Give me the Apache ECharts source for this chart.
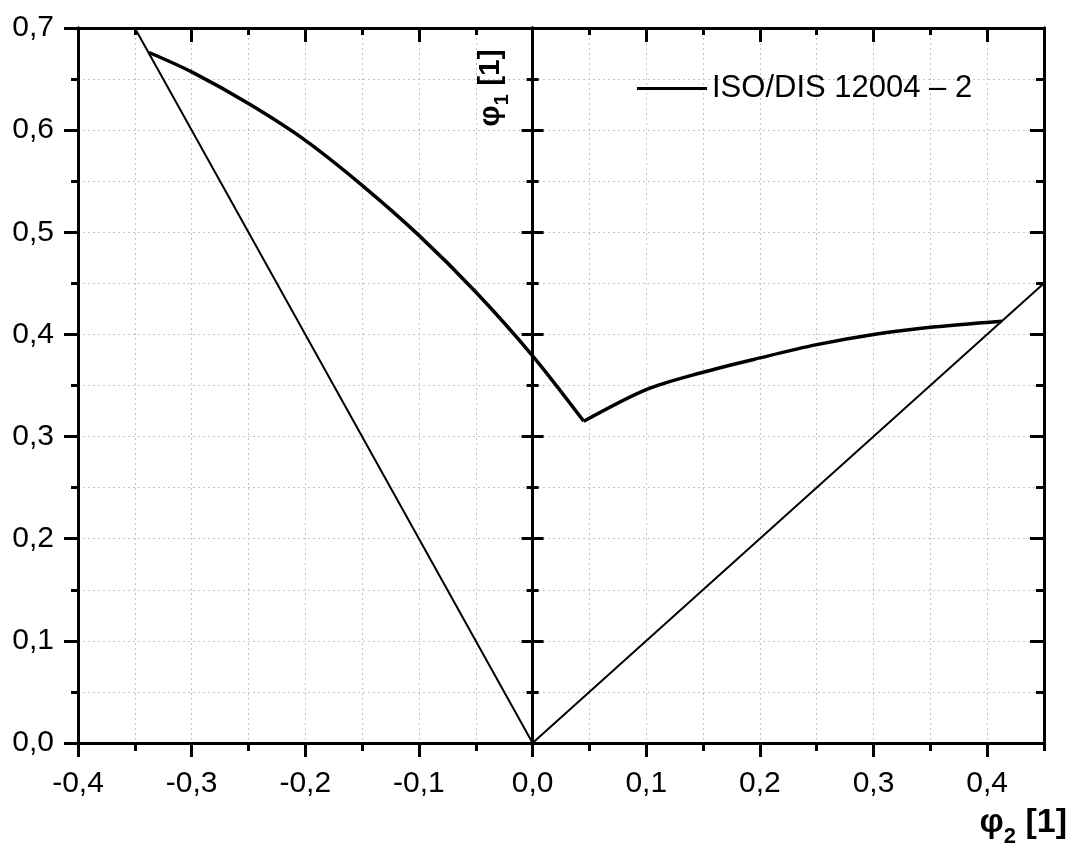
<!DOCTYPE html>
<html>
<head>
<meta charset="utf-8">
<script src="https://cdn.jsdelivr.net/npm/echarts@6/dist/echarts.min.js"></script>
<style>
html,body{margin:0;padding:0;background:#fff;}
#chart{width:1072px;height:853px;}
</style>
</head>
<body>
<div id="chart"></div>
<script>
// ---- data ----
var legendName = 'ISO/DIS 12004 \u2013 2';
// thin envelope lines (phi2, phi1)
var envelopeX = [-0.35, 0.0, 0.45];
var envelopeY = [0.70, 0.0, 0.45];
// left branch of the curve
var leftX = [-0.3375, -0.30, -0.25, -0.20, -0.15, -0.10, -0.05, 0.00, 0.045];
var leftY = [0.676, 0.657, 0.626, 0.590, 0.546, 0.497, 0.4415, 0.379, 0.315];
// right branch of the curve
var rightX = [0.045, 0.10, 0.15, 0.20, 0.25, 0.30, 0.35, 0.413];
var rightY = [0.315, 0.346, 0.363, 0.377, 0.390, 0.400, 0.407, 0.413];
// tick labels
var xTickValues = [-0.4, -0.3, -0.2, -0.1, 0.0, 0.1, 0.2, 0.3, 0.4];
var xTickLabels = ['-0,4', '-0,3', '-0,2', '-0,1', '0,0', '0,1', '0,2', '0,3', '0,4'];
var yTickValues = [0.0, 0.1, 0.2, 0.3, 0.4, 0.5, 0.6, 0.7];
var yTickLabels = ['0,0', '0,1', '0,2', '0,3', '0,4', '0,5', '0,6', '0,7'];

function zip(xs, ys){ return xs.map(function(x,i){ return [x, ys[i]]; }); }
function labelFor(vals, labs){
  return function(v){
    for (var i=0;i<vals.length;i++){ if (Math.abs(vals[i]-v) < 1e-6) return labs[i]; }
    return '';
  };
}

var FONT = '"Liberation Sans", Arial, sans-serif';
var BLACK = '#000';
var gridLine = {show:true, lineStyle:{color:'#c4c4c4', width:1, type:[2,3]}};
var X = {min:-0.4, max:0.45};
var Y = {min:0, max:0.7};

function xAx(o){
  return Object.assign({type:'value', min:X.min, max:X.max, splitLine:{show:false},
    axisLabel:{show:false}, axisLine:{show:true, onZero:false, lineStyle:{color:BLACK,width:3}}}, o);
}
function yAx(o){
  return Object.assign({type:'value', min:Y.min, max:Y.max, splitLine:{show:false},
    axisLabel:{show:false}, axisLine:{show:true, onZero:false, lineStyle:{color:BLACK,width:3}}}, o);
}

var option = {
  animation:false,
  backgroundColor:'#fff',
  grid:{left:78, right:28, top:28, bottom:110, containLabel:false},
  legend:{
    data:[legendName], left:632, top:68, itemWidth:70, itemHeight:16, itemGap:0,
    textStyle:{fontFamily:FONT, fontSize:31, color:BLACK}, icon:'path://M0,6.5 L70,6.5 L70,9.5 L0,9.5 Z'
  },
  xAxis:[
    xAx({position:'bottom', interval:0.05, splitLine:gridLine,
         axisTick:{show:true, inside:false, length:8, lineStyle:{color:BLACK,width:3}}}),
    xAx({position:'bottom', interval:0.1,
         axisTick:{show:true, inside:false, length:14, lineStyle:{color:BLACK,width:3}, customValues:xTickValues},
         axisLabel:{show:true, margin:26, fontFamily:FONT, fontSize:30, color:BLACK,
                    customValues:xTickValues, formatter:labelFor(xTickValues,xTickLabels)}}),
    xAx({position:'top', interval:0.05,
         axisTick:{show:true, inside:true, length:7, lineStyle:{color:BLACK,width:3}}}),
    xAx({position:'top', interval:0.1,
         axisTick:{show:true, inside:true, length:14, lineStyle:{color:BLACK,width:3}, customValues:xTickValues}})
  ],
  yAxis:[
    yAx({position:'left', interval:0.05, splitLine:gridLine,
         axisTick:{show:true, inside:false, length:7, lineStyle:{color:BLACK,width:3}}}),
    yAx({position:'left', interval:0.1,
         axisTick:{show:true, inside:false, length:14, lineStyle:{color:BLACK,width:3}},
         axisLabel:{show:true, margin:24, fontFamily:FONT, fontSize:30, color:BLACK,
                    formatter:labelFor(yTickValues,yTickLabels)}}),
    yAx({position:'right', interval:0.05,
         axisTick:{show:true, inside:true, length:8, lineStyle:{color:BLACK,width:3}}}),
    yAx({position:'right', interval:0.1,
         axisTick:{show:true, inside:true, length:14, lineStyle:{color:BLACK,width:3}}}),
    yAx({position:'left', interval:0.05,
         axisLine:{show:true, onZero:true, onZeroAxisIndex:1, lineStyle:{color:BLACK,width:3}},
         axisTick:{show:true, inside:true, length:6, lineStyle:{color:BLACK,width:3}}}),
    yAx({position:'left', interval:0.05,
         axisLine:{show:true, onZero:true, onZeroAxisIndex:1, lineStyle:{color:BLACK,width:3}},
         axisTick:{show:true, inside:false, length:6, lineStyle:{color:BLACK,width:3}}}),
    yAx({position:'left', interval:0.1,
         axisLine:{show:true, onZero:true, onZeroAxisIndex:1, lineStyle:{color:BLACK,width:3}},
         axisTick:{show:true, inside:true, length:11, lineStyle:{color:BLACK,width:3}}}),
    yAx({position:'left', interval:0.1,
         axisLine:{show:true, onZero:true, onZeroAxisIndex:1, lineStyle:{color:BLACK,width:3}},
         axisTick:{show:true, inside:false, length:11, lineStyle:{color:BLACK,width:3}}})
  ],
  series:[
    {type:'line', name:'envelope', xAxisIndex:1, yAxisIndex:1, data:zip(envelopeX, envelopeY),
     symbol:'none', lineStyle:{color:BLACK, width:2}, clip:true, z:3},
    {type:'line', name:legendName, xAxisIndex:1, yAxisIndex:1, data:zip(leftX, leftY),
     symbol:'none', smooth:0.3, lineStyle:{color:BLACK, width:3.5}, itemStyle:{color:BLACK}, z:4},
    {type:'line', name:legendName, xAxisIndex:1, yAxisIndex:1, data:zip(rightX, rightY),
     symbol:'none', smooth:0.3, lineStyle:{color:BLACK, width:3.5}, itemStyle:{color:BLACK}, z:4}
  ],
  graphic:[
    {type:'text', right:5, top:806, z:10,
     style:{text:'{p|\u03c6}{s|2}{p| [1]}', rich:{
        p:{fontFamily:FONT, fontWeight:'bold', fontSize:34, color:BLACK, verticalAlign:'top', lineHeight:42},
        s:{fontFamily:FONT, fontWeight:'bold', fontSize:22, color:BLACK, verticalAlign:'bottom', lineHeight:42, padding:[17,0,0,0]}
     }}},
    {type:'text', x:494, y:88, rotation:Math.PI/2, z:10,
     style:{text:'{p|\u03c6}{s|1}{p| [1]}', align:'center', verticalAlign:'middle', rich:{
        p:{fontFamily:FONT, fontWeight:'bold', fontSize:30, color:BLACK, verticalAlign:'top', lineHeight:36},
        s:{fontFamily:FONT, fontWeight:'bold', fontSize:20, color:BLACK, verticalAlign:'bottom', lineHeight:36, padding:[14,0,0,0]}
     }}}
  ]
};
var chart = echarts.init(document.getElementById('chart'), null, {renderer:'canvas'});
chart.setOption(option);
</script>
</body>
</html>
